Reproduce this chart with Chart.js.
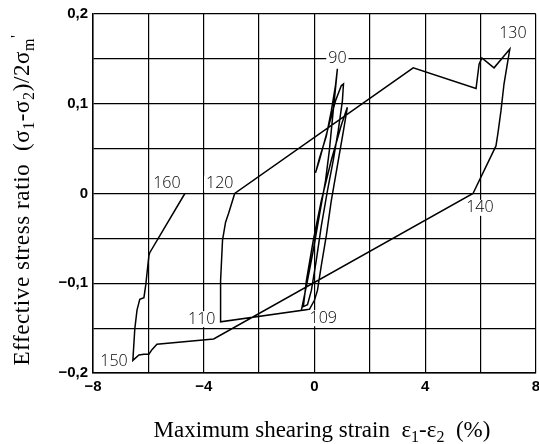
<!DOCTYPE html>
<html><head><meta charset="utf-8">
<script src="https://cdn.jsdelivr.net/npm/chart.js@4/dist/chart.umd.min.js"></script>
<style>html,body{margin:0;padding:0;overflow:hidden;background:#fff}#wrap{width:545px;height:444px;position:relative}</style>
</head><body><div id="wrap"><canvas id="c" width="545" height="444"></canvas></div>
<script>
// Maximum shearing strain (%) along the loading path
const strainX = [-0.47,-0.25,-0.04,0.18,0.40,0.54,0.68,0.79,0.83,0.76,0.61,0.43,0.18,0.04,0.18,0.47,0.76,0.97,1.05,1.01,0.86,0.68,0.47,0.25,0.07,-0.11,-0.25,-0.40,-0.29,-0.04,0.25,0.61,0.97,1.19,1.05,0.83,0.61,0.43,0.25,0.11,0.00,-0.18,
  -3.39,-3.39,-3.32,-3.21,-3.10,-2.88,3.57,5.84,5.95,6.05,6.49,7.06,6.99,6.85,6.74,6.63,6.56,5.73,-3.64,-5.69,-5.87,-5.98,-6.16,-6.34,-6.56,-6.49,-6.41,-6.31,-6.16,-6.09,-5.98,-5.95,-4.68];
// Effective stress ratio along the loading path
const stressY = [-0.130,-0.097,-0.063,-0.024,0.014,0.048,0.092,0.126,0.139,0.120,0.092,0.064,0.039,0.023,0.037,0.070,0.103,0.120,0.122,0.103,0.070,0.037,0.003,-0.036,-0.074,-0.108,-0.124,-0.126,-0.097,-0.052,-0.008,0.037,0.076,0.096,0.070,0.031,-0.008,-0.047,-0.080,-0.108,-0.119,-0.129,
  -0.143,-0.097,-0.052,-0.032,-0.022,0.000,0.140,0.117,0.144,0.151,0.140,0.161,0.148,0.122,0.092,0.067,0.053,0.000,-0.162,-0.168,-0.174,-0.179,-0.179,-0.180,-0.186,-0.151,-0.130,-0.118,-0.116,-0.101,-0.069,-0.066,0.000];
// Step labels and the data point they annotate
const stepNames = ['90','109','110','120','130','140','150','160'];
const stepX = [0.83,0.32,-4.07,-3.42,7.17,5.98,-7.24,-5.33];
const stepY = [0.151,-0.139,-0.140,0.011,0.178,-0.016,-0.187,0.011];
// Axis ticks
const xTickValues = [-8,-4,0,4,8];
const xTickLabels = ['\u22128','\u22124','0','4','8'];
const yTickValues = [-0.2,-0.1,0,0.1,0.2];
const yTickLabels = ['\u22120,2','\u22120,1','0','0,1','0,2'];

const points = strainX.map((x,i)=>({x:x,y:stressY[i]}));

const stepLabelPlugin = {
  id:'stepLabels',
  afterDatasetsDraw(chart){
    const ctx = chart.ctx, xs = chart.scales.x, ys = chart.scales.y;
    ctx.save();
    ctx.font = '300 16px "Open Sans", "DejaVu Sans", sans-serif';
    ctx.textAlign = 'center'; ctx.textBaseline = 'middle';
    stepNames.forEach((t,i)=>{
      const px = xs.getPixelForValue(stepX[i]), py = ys.getPixelForValue(stepY[i]);
      const w = ctx.measureText(t).width;
      ctx.fillStyle = '#fff';
      ctx.fillRect(px-w/2-2, py-8, w+4, 16);
      ctx.fillStyle = '#000';
      ctx.fillText(t, px, py);
    });
    ctx.restore();
  }
};

function drawRich(ctx, segs, cx, cy, base, sub, spacing){
  ctx.letterSpacing = spacing;
  let total = 0;
  segs.forEach(s=>{ctx.font = (s.k==='n'?base:sub); s.w = ctx.measureText(s.t).width; total += s.w;});
  let x = cx - total/2;
  segs.forEach(s=>{
    ctx.font = (s.k==='n'?base:sub);
    const dy = s.k==='sub'?5:(s.k==='sup'?-7:0);
    ctx.fillText(s.t, x, cy+dy);
    x += s.w;
  });
  ctx.letterSpacing = '0px';
}

const titlePlugin = {
  id:'titles',
  afterDraw(chart){
    const ctx = chart.ctx;
    ctx.save();
    ctx.fillStyle = '#000';
    ctx.textAlign = 'left'; ctx.textBaseline = 'alphabetic';
    const baseX = '23px "Liberation Serif", "DejaVu Serif", serif';
    const subX = '16px "Liberation Serif", "DejaVu Serif", serif';
    drawRich(ctx, [
      {t:'Maximum shearing strain  \u03b5',k:'n'},{t:'1',k:'sub'},{t:'-\u03b5',k:'n'},{t:'2',k:'sub'},{t:'  (%)',k:'n'}
    ], 322, 437, baseX, subX, '0px');
    const baseY = '23px "Liberation Serif", "DejaVu Serif", serif';
    const subY = '16px "Liberation Serif", "DejaVu Serif", serif';
    ctx.translate(29, 200);
    ctx.rotate(-Math.PI/2);
    drawRich(ctx, [
      {t:'Effective stress ratio  (\u03c3',k:'n'},{t:'1',k:'sub'},{t:'-\u03c3',k:'n'},{t:'2',k:'sub'},{t:')/2\u03c3',k:'n'},{t:'m',k:'sub'},{t:"'",k:'sup'}
    ], 0, 0, baseY, subY, '0.6px');
    ctx.restore();
  }
};

new Chart(document.getElementById('c'), {
  type:'scatter',
  data:{datasets:[{data:points, showLine:true, borderColor:'#000', borderWidth:1.5, pointRadius:0, tension:0, fill:false}]},
  options:{
    responsive:false, animation:false,
    layout:{padding:{top:12, right:7, left:0, bottom:0}},
    plugins:{legend:{display:false}, tooltip:{enabled:false}},
    scales:{
      x:{type:'linear', min:-8, max:8,
        afterFit(s){ s.height = 71; },
        afterBuildTicks(s){ s.ticks = [-8,-6,-4,-2,0,2,4,6,8].map(v=>({value:v})); },
        ticks:{autoSkip:false, maxRotation:0, padding:5, color:'#000', font:{family:'"Liberation Sans", Arial, sans-serif', size:15, weight:'bold'},
          callback(v){ const i = xTickValues.indexOf(v); return i>=0 ? xTickLabels[i] : ''; }},
        grid:{color:'#000', lineWidth:1.2, drawTicks:false},
        border:{color:'#000', width:1.5}
      },
      y:{type:'linear', min:-0.2, max:0.2,
        afterFit(s){ s.width = 93; },
        afterBuildTicks(s){ s.ticks = [-0.2,-0.15,-0.1,-0.05,0,0.05,0.1,0.15,0.2].map(v=>({value:v})); },
        ticks:{autoSkip:false, padding:5, color:'#000', font:{family:'"Liberation Sans", Arial, sans-serif', size:15, weight:'bold'},
          callback(v){ const i = yTickValues.findIndex(t=>Math.abs(t-v)<1e-9); return i>=0 ? yTickLabels[i] : ''; }},
        grid:{color:'#000', lineWidth:1.2, drawTicks:false},
        border:{color:'#000', width:1.5}
      }
    }
  },
  plugins:[stepLabelPlugin, titlePlugin]
});
</script>
</body></html>
